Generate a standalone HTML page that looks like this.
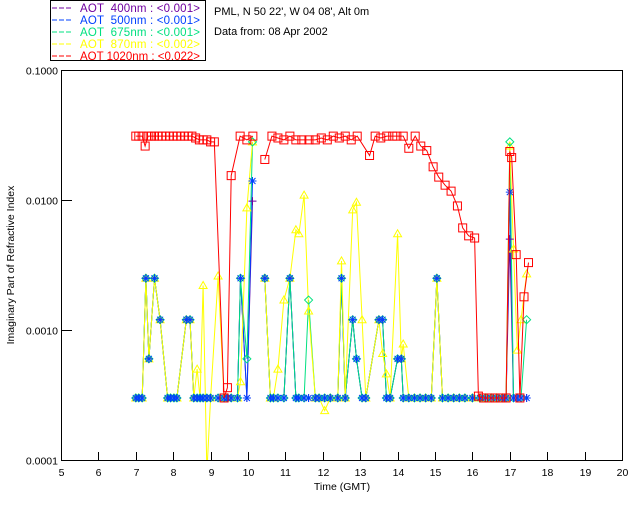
<!DOCTYPE html>
<html><head><meta charset="utf-8"><style>
body{margin:0;background:#fff;}
svg text{font-family:"Liberation Sans",sans-serif;}
</style></head><body>
<svg id="chart" width="640" height="512" viewBox="0 0 640 512" xmlns="http://www.w3.org/2000/svg">
<rect width="640" height="512" fill="#fff"/>
<g>
<rect x="50.5" y="0.5" width="155" height="60" fill="#fff" stroke="#000"/>
<g font-size="11.5">
<line x1="52" y1="8" x2="72" y2="8" stroke="#7000a0" stroke-dasharray="5,2"/><text x="80" y="12" fill="#7000a0" textLength="120" xml:space="preserve">AOT  400nm : &lt;0.001&gt;</text>
<line x1="52" y1="20" x2="72" y2="20" stroke="#0040ff" stroke-dasharray="5,2"/><text x="80" y="24" fill="#0040ff" textLength="120" xml:space="preserve">AOT  500nm : &lt;0.001&gt;</text>
<line x1="52" y1="32" x2="72" y2="32" stroke="#00e080" stroke-dasharray="5,2"/><text x="80" y="36" fill="#00e080" textLength="120" xml:space="preserve">AOT  675nm : &lt;0.001&gt;</text>
<line x1="52" y1="44" x2="72" y2="44" stroke="#ffff00" stroke-dasharray="5,2"/><text x="80" y="48" fill="#ffff00" textLength="120" xml:space="preserve">AOT  870nm : &lt;0.002&gt;</text>
<line x1="52" y1="56" x2="72" y2="56" stroke="#ff0000" stroke-dasharray="5,2"/><text x="80" y="60" fill="#ff0000" textLength="120" xml:space="preserve">AOT 1020nm : &lt;0.022&gt;</text>
</g></g>
<text x="214" y="15" font-size="11">PML, N 50 22', W 04 08', Alt 0m</text>
<text x="214" y="35" font-size="11">Data from: 08 Apr 2002</text>
<g id="axes"></g>
<g id="plot"></g>
<text x="342" y="490" font-size="10.5" text-anchor="middle">Time (GMT)</text>
<text transform="translate(14,265) rotate(-90)" font-size="10.5" text-anchor="middle">Imaginary Part of Refractive Index</text>
</svg>
<script>
const xTicks=[5,6,7,8,9,10,11,12,13,14,15,16,17,18,19,20];
const yTicks=[0.1,0.01,0.001,0.0001];
const yTickLabels=["0.1000","0.0100","0.0010","0.0001"];
const times=[7.0,7.08,7.17,7.27,7.35,7.5,7.65,7.85,7.93,8.02,8.1,8.35,8.45,8.55,8.64,8.72,8.8,8.9,9.0,9.2,9.36,9.45,9.55,9.72,9.8,9.97,10.12,10.3,10.45,10.6,10.68,10.8,10.96,11.12,11.28,11.36,11.5,11.62,11.8,11.9,12.05,12.2,12.4,12.5,12.6,12.8,12.9,13.05,13.15,13.5,13.6,13.7,13.8,14.0,14.1,14.15,14.3,14.45,14.6,14.75,14.9,15.05,15.2,15.35,15.5,15.65,15.8,16.0,16.2,16.35,16.5,16.65,16.8,16.9,17.0,17.1,17.2,17.3,17.45];
const blue=[.0003,.0003,.0003,.0025,.0006,.0025,.0012,.0003,.0003,.0003,.0003,.0012,.0012,.0003,.0003,.0003,.0003,.0003,.0003,.0003,.0003,.0003,.0003,.0003,.0025,.0003,.014,null,.0025,.0003,.0003,.0003,.0003,.0025,.0003,.0003,.0003,.0003,.0003,.0003,.0003,.0003,.0003,.0025,.0003,.0012,.0006,.0003,.0003,.0012,.0012,.0003,.0003,.0006,.0006,.0003,.0003,.0003,.0003,.0003,.0003,.0025,.0003,.0003,.0003,.0003,.0003,.0003,.0003,.0003,.0003,.0003,.0003,.0003,.0115,.0003,.0003,.0003,.0003];
const purple=[.0003,.0003,.0003,.0025,.0006,.0025,.0012,.0003,.0003,.0003,.0003,.0012,.0012,.0003,.0003,.0003,.0003,.0003,.0003,.0003,.0003,.0003,.0003,.0003,.0025,.0003,.0098,null,.0025,.0003,.0003,.0003,.0003,.0025,.0003,.0003,.0003,.0003,.0003,.0003,.0003,.0003,.0003,.0025,.0003,.0012,.0006,.0003,.0003,.0012,.0012,.0003,.0003,.0006,.0006,.0003,.0003,.0003,.0003,.0003,.0003,.0025,.0003,.0003,.0003,.0003,.0003,.0003,.0003,.0003,.0003,.0003,.0003,.0003,.005,.0003,.0003,.0003,.0003];
const green=[.0003,.0003,.0003,.0025,.0006,.0025,.0012,.0003,.0003,.0003,.0003,.0012,.0012,.0003,.0003,.0003,.0003,.0003,.0003,.0003,.0003,.0003,.0003,.0003,.0025,.0006,.028,null,.0025,.0003,.0003,.0003,.0003,.0025,.0003,.0003,.0003,.0017,.0003,.0003,.0003,.0003,.0003,.0025,.0003,.0012,.0006,.0003,.0003,.0012,.0012,.0003,.0003,.0006,.0006,.0003,.0003,.0003,.0003,.0003,.0003,.0025,.0003,.0003,.0003,.0003,.0003,.0003,.0003,.0003,.0003,.0003,.0003,.0003,.028,.0003,.0003,.0003,.0012];
const yellow=[.0003,.0003,.0003,.0025,.0006,.0025,.0012,.0003,.0003,.0003,.0003,.0012,.0012,.0003,.0005,.0003,.0022,.00008,.0003,.0026,.0003,.0003,.0003,.0003,.0004,.0087,.028,null,.0025,.0003,.0003,.0005,.0017,.0025,.0059,.0055,.0109,.0014,.0003,.0003,.00024,.0003,.0003,.0034,.0003,.0084,.0096,.0012,.0003,.0012,.00066,.00046,.0003,.0055,.0006,.00078,.0003,.0003,.0003,.0003,.0003,.0025,.0003,.0003,.0003,.0003,.0003,.0003,.0003,.0003,.0003,.0003,.0003,.0003,.026,.0042,.0007,.0012,.0027];
const redTimes=[7.0,7.08,7.17,7.25,7.33,7.42,7.5,7.6,7.7,7.8,7.9,8.0,8.1,8.2,8.3,8.4,8.5,8.6,8.7,8.8,8.9,9.0,9.1,9.36,9.45,9.55,9.79,9.97,10.13,10.3,10.45,10.64,10.8,10.96,11.12,11.28,11.44,11.63,11.8,11.96,12.12,12.28,12.44,12.6,12.76,12.92,13.25,13.4,13.55,13.71,13.87,13.98,14.15,14.3,14.47,14.62,14.78,14.95,15.1,15.27,15.43,15.6,15.74,15.9,16.06,16.16,16.3,16.45,16.6,16.75,16.9,17.0,17.05,17.17,17.27,17.38,17.5];
const red=[.031,.031,.031,.026,.031,.031,.031,.031,.031,.031,.031,.031,.031,.031,.031,.031,.031,.030,.029,.029,.029,.028,.028,.0003,.00036,.0154,.031,.029,.031,null,.0205,.031,.030,.029,.031,.029,.029,.029,.029,.030,.029,.031,.030,.031,.029,.031,.022,.031,.030,.031,.031,.031,.031,.025,.031,.026,.024,.018,.015,.013,.0117,.009,.0061,.0053,.0051,.00031,.0003,.0003,.0003,.0003,.0003,.0236,.0212,.0038,.0003,.0018,.0033];

const X0=61,X1=622,Y0=70,Y1=460;
function xs(t){return X0+(t-5)/15*(X1-X0);}
function ys(v){return Y0+(-1-Math.log10(v))/3*(Y1-Y0);}
const NS="http://www.w3.org/2000/svg";
function mk(tag,attrs,parent){const e=document.createElementNS(NS,tag);for(const k in attrs)e.setAttribute(k,attrs[k]);parent.appendChild(e);return e;}
const axes=document.getElementById('axes');
const frame=mk('rect',{x:X0+.5,y:Y0+.5,width:X1-X0,height:Y1-Y0,fill:'none',stroke:'#000'},axes);


xTicks.forEach(t=>{
  const x=Math.round(xs(t))+.5;
  if(t>5&&t<20){const l=mk('line',{x1:x,y1:Y1,x2:x,y2:Y1-8,stroke:'#000'},axes);
  
  }
  const tx=mk('text',{x:x,y:Y1+16,'font-size':10.5,'text-anchor':'middle'},axes);tx.textContent=t;
  
  
});
yTicks.forEach((v,i)=>{
  const y=Math.round(ys(v))+.5;
  if(i>0&&i<3){const l=mk('line',{x1:X0,y1:y,x2:X0+11,y2:y,stroke:'#000'},axes);
  
  }
  const tx=mk('text',{x:X0-3,y:y+4,'font-size':10.5,'text-anchor':'end'},axes);tx.textContent=yTickLabels[i];
  
  
});
const plot=document.getElementById('plot');
const cp=mk('clipPath',{id:'clip'},plot);
mk('rect',{x:X0,y:Y0,width:X1-X0,height:Y1-Y0},cp);
function marker(g,type,x,y,c){
  if(type==='sq')mk('rect',{x:x-4,y:y-4,width:8,height:8,fill:'none',stroke:c},g);
  else if(type==='tri')mk('path',{d:`M${x},${y-4}L${x+4},${y+3}L${x-4},${y+3}Z`,fill:'none',stroke:c},g);
  else if(type==='dia')mk('path',{d:`M${x},${y-4}L${x+4},${y}L${x},${y+4}L${x-4},${y}Z`,fill:'none',stroke:c},g);
  else if(type==='plus')mk('path',{d:`M${x-4},${y}H${x+4}M${x},${y-4}V${y+4}`,stroke:c},g);
  else if(type==='star')mk('path',{d:`M${x-4},${y}H${x+4}M${x},${y-4}V${y+4}M${x-3},${y-3}L${x+3},${y+3}M${x-3},${y+3}L${x+3},${y-3}`,stroke:c},g);
}
function lineOf(name,tt,vals,color){
  const g=mk('g',{'clip-path':'url(#clip)'},plot);
  
  
  let d='',pen=false;
  tt.forEach((t,i)=>{const v=vals[i];if(v==null){pen=false;return;}
    d+=(pen?'L':'M')+xs(t).toFixed(1)+','+ys(v).toFixed(1);pen=true;});
  mk('path',{d:d,fill:'none',stroke:color,'stroke-width':1},g);
}
function marksOf(name,tt,vals,color,type){
  const g=mk('g',{'clip-path':'url(#clip)'},plot);
  
  
  tt.forEach((t,i)=>{const v=vals[i];if(v==null)return;marker(g,type,xs(t),ys(v),color);});
}
lineOf('series-400nm',times,purple,'#7000a0');
lineOf('series-500nm',times,blue,'#0040ff');
lineOf('series-675nm',times,green,'#00e080');
lineOf('series-870nm',times,yellow,'#ffff00');
marksOf('series-870nm',times,yellow,'#ffff00','tri');
marksOf('series-675nm',times,green,'#00e080','dia');
marksOf('series-400nm',times,purple,'#7000a0','plus');
marksOf('series-500nm',times,blue,'#0040ff','star');
lineOf('series-1020nm',redTimes,red,'#ff0000');
marksOf('series-1020nm',redTimes,red,'#ff0000','sq');
</script>
</body></html>
